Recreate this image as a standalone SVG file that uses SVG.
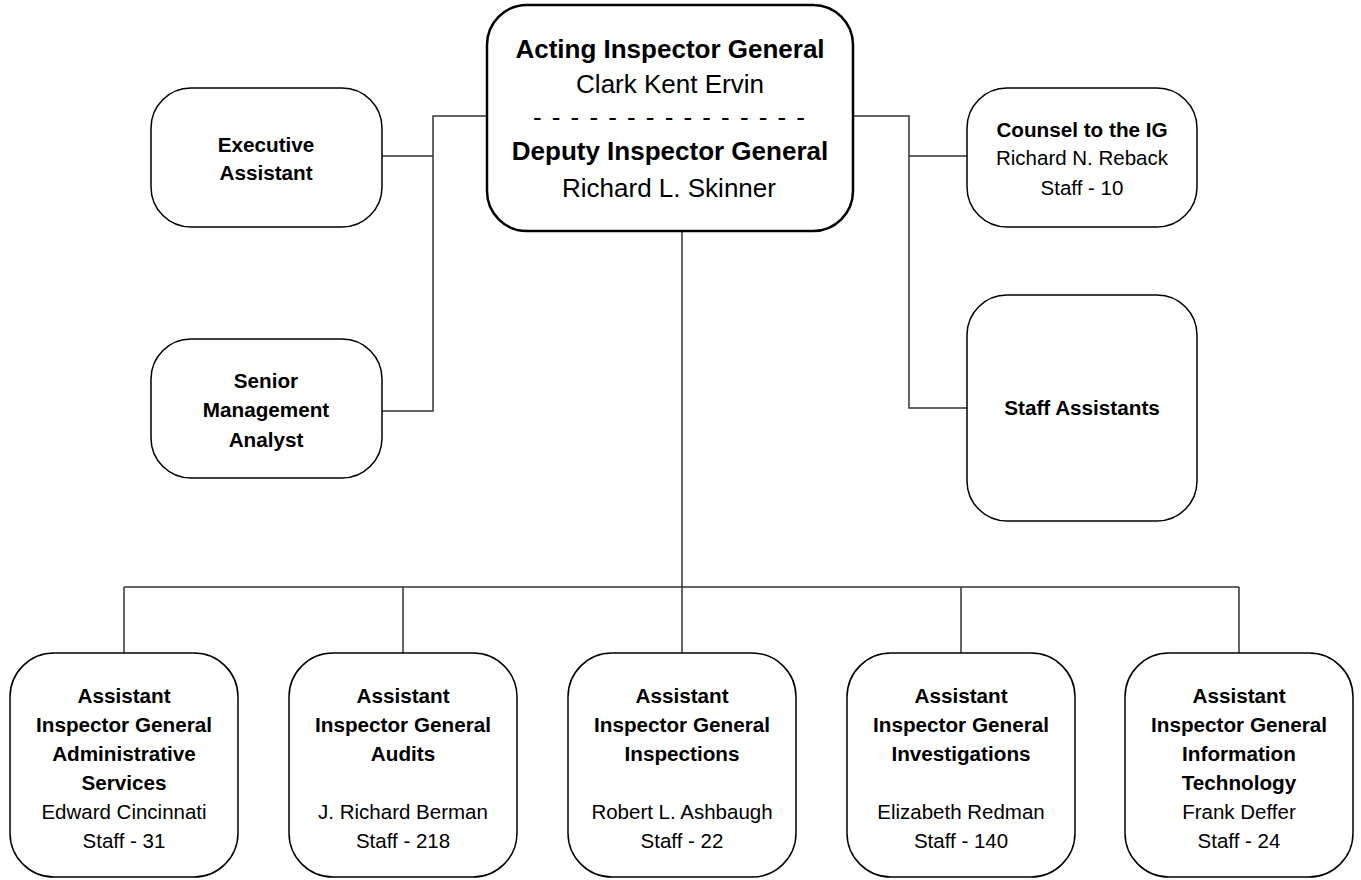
<svg xmlns="http://www.w3.org/2000/svg" width="1361" height="880" viewBox="0 0 1361 880">
<style>
.box{fill:#fff;stroke:#000;stroke-width:1.5}
.main{fill:#fff;stroke:#000;stroke-width:2.5}
.ln{fill:none;stroke:#333;stroke-width:1.5}
text{font-family:"Liberation Sans",Arial,sans-serif;text-anchor:middle;fill:#000}
.b{font-weight:bold;font-size:20.7px}
.r{font-size:20.5px}
.bl{font-weight:bold;font-size:26px}
.rl{font-size:26px}
</style>
<rect width="1361" height="880" fill="#fff"/>
<g id="connectors">
<path class="ln" d="M487 116H433V411H382M433 156H382"/>
<path class="ln" d="M853 116H909V408H967M909 156H967"/>
<path class="ln" d="M682 231V587M124 587H1239M124 587V653M403 587V653M682 587V653M961 587V653M1239 587V653"/>
</g>
<g id="n-ig">
<rect class="main" x="487" y="5" width="366" height="226" rx="40"/>
<text class="bl" x="670" y="58">Acting Inspector General</text>
<text class="rl" x="670" y="93">Clark Kent Ervin</text>
<text class="rl" x="669" y="126" textLength="272" lengthAdjust="spacing">- - - - - - - - - - - - - - -</text>
<text class="bl" x="670" y="160">Deputy Inspector General</text>
<text class="rl" x="669" y="197">Richard L. Skinner</text>
</g>
<g id="n-exec">
<rect class="box" x="151" y="88" width="231" height="139" rx="40"/>
<text class="b" x="266" y="152">Executive</text>
<text class="b" x="266" y="180">Assistant</text>
</g>
<g id="n-sma">
<rect class="box" x="151" y="339" width="231" height="139" rx="40"/>
<text class="b" x="266" y="388">Senior</text>
<text class="b" x="266" y="417">Management</text>
<text class="b" x="266" y="447">Analyst</text>
</g>
<g id="n-counsel">
<rect class="box" x="967" y="88" width="230" height="139" rx="40"/>
<text class="b" x="1082" y="137">Counsel to the IG</text>
<text class="r" x="1082" y="165">Richard N. Reback</text>
<text class="r" x="1082" y="195">Staff - 10</text>
</g>
<g id="n-staff">
<rect class="box" x="967" y="295" width="230" height="226" rx="40"/>
<text class="b" x="1082" y="415">Staff Assistants</text>
</g>
<g id="n-admin">
<rect class="box" x="10" y="653" width="228" height="224" rx="44"/>
<text class="b" x="124" y="703">Assistant</text>
<text class="b" x="124" y="732">Inspector General</text>
<text class="b" x="124" y="761">Administrative</text>
<text class="b" x="124" y="790">Services</text>
<text class="r" x="124" y="819">Edward Cincinnati</text>
<text class="r" x="124" y="848">Staff - 31</text>
</g>
<g id="n-audits">
<rect class="box" x="289" y="653" width="228" height="224" rx="44"/>
<text class="b" x="403" y="703">Assistant</text>
<text class="b" x="403" y="732">Inspector General</text>
<text class="b" x="403" y="761">Audits</text>
<text class="r" x="403" y="819">J. Richard Berman</text>
<text class="r" x="403" y="848">Staff - 218</text>
</g>
<g id="n-insp">
<rect class="box" x="568" y="653" width="228" height="224" rx="44"/>
<text class="b" x="682" y="703">Assistant</text>
<text class="b" x="682" y="732">Inspector General</text>
<text class="b" x="682" y="761">Inspections</text>
<text class="r" x="682" y="819">Robert L. Ashbaugh</text>
<text class="r" x="682" y="848">Staff - 22</text>
</g>
<g id="n-invest">
<rect class="box" x="847" y="653" width="228" height="224" rx="44"/>
<text class="b" x="961" y="703">Assistant</text>
<text class="b" x="961" y="732">Inspector General</text>
<text class="b" x="961" y="761">Investigations</text>
<text class="r" x="961" y="819">Elizabeth Redman</text>
<text class="r" x="961" y="848">Staff - 140</text>
</g>
<g id="n-it">
<rect class="box" x="1125" y="653" width="228" height="224" rx="44"/>
<text class="b" x="1239" y="703">Assistant</text>
<text class="b" x="1239" y="732">Inspector General</text>
<text class="b" x="1239" y="761">Information</text>
<text class="b" x="1239" y="790">Technology</text>
<text class="r" x="1239" y="819">Frank Deffer</text>
<text class="r" x="1239" y="848">Staff - 24</text>
</g>
</svg>
